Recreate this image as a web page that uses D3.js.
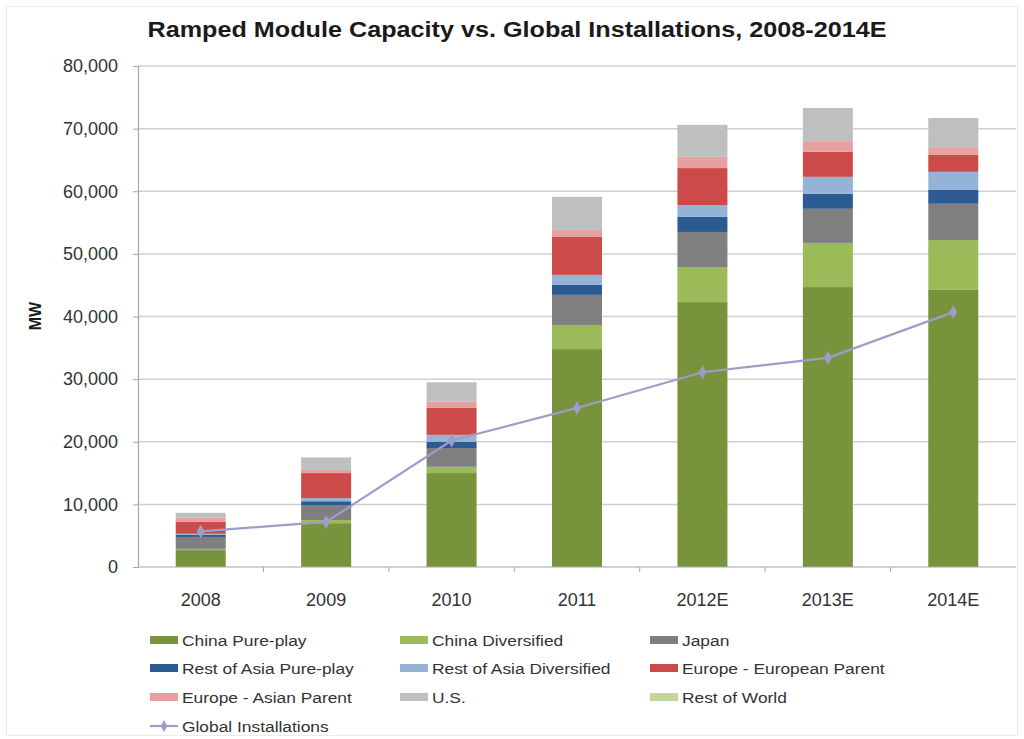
<!DOCTYPE html>
<html>
<head>
<meta charset="utf-8">
<script src="https://cdn.jsdelivr.net/npm/d3@7"></script>
<style>
  html, body { margin: 0; padding: 0; background: #fff; }
  svg { display: block; font-family: "Liberation Sans", Arial, sans-serif; }
</style>
</head>
<body>
<svg id="chart" width="1024" height="739"></svg>
<script>
// Years on the category axis
const years = ["2008", "2009", "2010", "2011", "2012E", "2013E", "2014E"];

// Ramped module capacity by producer group (MW), stacked bottom to top
const chinaPurePlay      = [2700, 7000, 15000, 34800, 42300, 44700, 44250];
const chinaDiversified   = [200, 500, 1000, 3850, 5600, 7050, 7950];
const japan              = [1900, 2400, 3000, 4800, 5600, 5450, 5800];
const restAsiaPurePlay   = [350, 600, 1000, 1600, 2400, 2400, 2200];
const restAsiaDiversified= [150, 500, 1100, 1600, 1900, 2700, 2900];
const europeEuropean     = [1900, 4000, 4300, 6050, 5900, 4000, 2700];
const europeAsian        = [650, 500, 1000, 1100, 1800, 1700, 1100];
const us                 = [800, 2000, 3100, 5300, 5100, 5300, 4800];
const restOfWorld        = [0, 0, 0, 0, 0, 0, 0];

// Global installations (MW)
const globalInstallations = [5700, 7200, 20200, 25400, 31100, 33400, 40700];

// Y axis ticks
const yTicks = [0, 10000, 20000, 30000, 40000, 50000, 60000, 70000, 80000];

const series = [
  { name: "China Pure-play",          values: chinaPurePlay,       color: "#77933c" },
  { name: "China Diversified",        values: chinaDiversified,    color: "#9bbb59" },
  { name: "Japan",                    values: japan,               color: "#7f7f7f" },
  { name: "Rest of Asia Pure-play",   values: restAsiaPurePlay,    color: "#2c5b93" },
  { name: "Rest of Asia Diversified", values: restAsiaDiversified, color: "#95b3d7" },
  { name: "Europe - European  Parent",values: europeEuropean,      color: "#cc4a4a" },
  { name: "Europe - Asian  Parent",   values: europeAsian,         color: "#e6a09e" },
  { name: "U.S.",                     values: us,                  color: "#bfbfbf" },
  { name: "Rest of World",            values: restOfWorld,         color: "#c3d69b" }
];
const lineColor = "#a09cc9";

const svg = d3.select("#chart");
const W = 1024, H = 739;

// faint frame around the chart
svg.append("rect").attr("x", 6.5).attr("y", 6.5).attr("width", W - 13).attr("height", H - 10)
  .attr("fill", "none").attr("stroke", "#ececec").attr("stroke-width", 1);

const m = { left: 138, right: 1016, top: 66, bottom: 567 };

const xBand = d3.scaleBand().domain(years).range([m.left, m.right]);
const y = d3.scaleLinear().domain([0, 80000]).range([m.bottom, m.top]);

// title
svg.append("text")
  .attr("x", 517).attr("y", 37)
  .attr("text-anchor", "middle")
  .attr("font-size", 22).attr("font-weight", "bold").attr("fill", "#1a1a1a")
  .attr("textLength", 739).attr("lengthAdjust", "spacingAndGlyphs")
  .text("Ramped Module Capacity vs. Global Installations, 2008-2014E");

// gridlines
svg.append("g").selectAll("line").data(yTicks.filter(d => d > 0)).join("line")
  .attr("x1", m.left).attr("x2", m.right)
  .attr("y1", d => y(d)).attr("y2", d => y(d))
  .attr("stroke", "#d0d0d0").attr("stroke-width", 1.5);

// y axis
const yAxis = d3.axisLeft(y).tickValues(yTicks).tickSize(5).tickPadding(15)
  .tickFormat(d3.format(",.0f"));
const gy = svg.append("g").attr("transform", `translate(${m.left},0)`).call(yAxis);
gy.select(".domain").attr("stroke", "#a6a6a6").attr("stroke-width", 1.2);
gy.selectAll(".tick line").attr("stroke", "#a6a6a6");
gy.selectAll("text").attr("font-size", 18).attr("fill", "#333").attr("font-family", "Liberation Sans, Arial, sans-serif");

// y axis title
svg.append("text")
  .attr("transform", "translate(41,316) rotate(-90)")
  .attr("text-anchor", "middle")
  .attr("font-size", 16).attr("font-weight", "bold").attr("fill", "#1a1a1a")
  .text("MW");

// stacked bars
const table = years.map((yr, i) => {
  const row = { year: yr };
  series.forEach(s => { row[s.name] = s.values[i]; });
  return row;
});
const stack = d3.stack().keys(series.map(s => s.name));
const stacked = stack(table);

const bw = 50;
svg.append("g").selectAll("g").data(stacked).join("g")
  .attr("fill", (d, i) => series[i].color)
  .selectAll("rect").data(d => d).join("rect")
  .attr("x", d => xBand(d.data.year) + xBand.bandwidth() / 2 - bw / 2)
  .attr("width", bw)
  .attr("y", d => y(d[1]))
  .attr("height", d => Math.max(0, y(d[0]) - y(d[1])));

// x axis
const gx = svg.append("g").attr("transform", `translate(0,${m.bottom})`);
gx.append("line").attr("x1", m.left).attr("x2", m.right).attr("y1", 0).attr("y2", 0)
  .attr("stroke", "#a6a6a6").attr("stroke-width", 1.2);
const bounds = years.slice(1).map(yr => xBand(yr));
gx.selectAll(".tk").data(bounds).join("line")
  .attr("x1", d => d).attr("x2", d => d).attr("y1", 0).attr("y2", 5)
  .attr("stroke", "#a6a6a6");
gx.selectAll(".lbl").data(years).join("text")
  .attr("x", d => xBand(d) + xBand.bandwidth() / 2)
  .attr("y", 39)
  .attr("text-anchor", "middle")
  .attr("font-size", 18).attr("fill", "#333")
  .text(d => d);

// global installations line
const cx = d => xBand(d) + xBand.bandwidth() / 2;
const line = d3.line().x((d, i) => cx(years[i])).y(d => y(d));
svg.append("path").datum(globalInstallations)
  .attr("d", line).attr("fill", "none")
  .attr("stroke", lineColor).attr("stroke-width", 2.2);
const diamond = d3.symbol().type(d3.symbolDiamond).size(55);
svg.append("g").selectAll("path").data(globalInstallations).join("path")
  .attr("d", diamond)
  .attr("transform", (d, i) => `translate(${cx(years[i])},${y(d)})`)
  .attr("fill", lineColor);

// legend
const colX = [150, 400, 650];
const rowY = [641, 669, 698, 727];
const lg = svg.append("g");
function legendText(xp, yp, label) {
  const t = lg.append("text").attr("x", xp).attr("y", yp)
    .attr("font-size", 15.5).attr("fill", "#333").text(label);
  const w = t.node().getComputedTextLength();
  t.attr("textLength", w * 1.12).attr("lengthAdjust", "spacingAndGlyphs");
}
series.forEach((s, i) => {
  const gx0 = colX[i % 3], gy0 = rowY[Math.floor(i / 3)];
  lg.append("rect").attr("x", gx0).attr("y", gy0 - 5).attr("width", 28).attr("height", 8).attr("fill", s.color);
  legendText(gx0 + 32, gy0 + 5, s.name);
});
// line entry
const ly = rowY[3];
lg.append("line").attr("x1", 150).attr("x2", 178).attr("y1", ly - 1).attr("y2", ly - 1)
  .attr("stroke", lineColor).attr("stroke-width", 2.2);
lg.append("path").attr("d", d3.symbol().type(d3.symbolDiamond).size(40))
  .attr("transform", `translate(164,${ly - 1})`).attr("fill", lineColor);
legendText(182, ly + 5, "Global Installations");
</script>
</body>
</html>
